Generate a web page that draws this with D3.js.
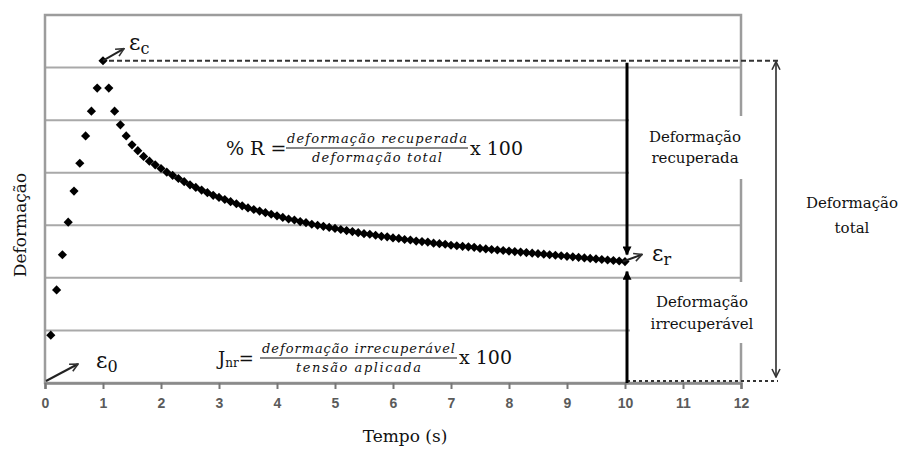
<!DOCTYPE html>
<html>
<head>
<meta charset="utf-8">
<script src="https://cdn.jsdelivr.net/npm/d3@7"></script>
<style>
  body { margin: 0; background: #fff; }
</style>
</head>
<body>
<svg id="chart"></svg>
<script>
'use strict'

// creep-recovery test
const timeS = [
  0.1, 0.2, 0.3, 0.4, 0.5, 0.6, 0.7, 0.8, 0.9, 1.0,
  1.1, 1.2, 1.3, 1.4, 1.5, 1.6, 1.7, 1.8, 1.9, 2.0,
  2.1, 2.2, 2.3, 2.4, 2.5, 2.6, 2.7, 2.8, 2.9, 3.0,
  3.1, 3.2, 3.3, 3.4, 3.5, 3.6, 3.7, 3.8, 3.9, 4.0,
  4.1, 4.2, 4.3, 4.4, 4.5, 4.6, 4.7, 4.8, 4.9, 5.0,
  5.1, 5.2, 5.3, 5.4, 5.5, 5.6, 5.7, 5.8, 5.9, 6.0,
  6.1, 6.2, 6.3, 6.4, 6.5, 6.6, 6.7, 6.8, 6.9, 7.0,
  7.1, 7.2, 7.3, 7.4, 7.5, 7.6, 7.7, 7.8, 7.9, 8.0,
  8.1, 8.2, 8.3, 8.4, 8.5, 8.6, 8.7, 8.8, 8.9, 9.0,
  9.1, 9.2, 9.3, 9.4, 9.5, 9.6, 9.7, 9.8, 9.9, 10.0
]

const strain = [
  0.91, 1.77, 2.44, 3.06, 3.65, 4.18, 4.70, 5.17, 5.61, 6.13,
  5.61, 5.17, 4.91, 4.70, 4.53, 4.42, 4.31, 4.22, 4.15, 4.08,
  4.01, 3.95, 3.89, 3.83, 3.77, 3.72, 3.67, 3.62, 3.57, 3.53,
  3.49, 3.45, 3.41, 3.37, 3.33, 3.30, 3.27, 3.24, 3.21, 3.18,
  3.15, 3.12, 3.10, 3.07, 3.05, 3.02, 3.00, 2.98, 2.96, 2.94,
  2.92, 2.90, 2.88, 2.86, 2.84, 2.83, 2.81, 2.79, 2.78, 2.76,
  2.75, 2.73, 2.72, 2.70, 2.69, 2.68, 2.66, 2.65, 2.64, 2.62,
  2.61, 2.60, 2.59, 2.58, 2.56, 2.55, 2.54, 2.53, 2.52, 2.51,
  2.50, 2.49, 2.48, 2.47, 2.46, 2.45, 2.44, 2.43, 2.42, 2.41,
  2.40, 2.39, 2.38, 2.37, 2.36, 2.35, 2.34, 2.33, 2.32, 2.31
]

const xTicks = [0, 1, 2, 3, 4, 5, 6, 7, 8, 9, 10, 11, 12]
const gridLevels = [1, 2, 3, 4, 5, 6]

const width = 898, height = 449
const serif = '"DejaVu Serif", serif'

const svg = d3.select('#chart')
  .attr('width', width)
  .attr('height', height)

const x = d3.scaleLinear().domain([0, 12]).range([45, 741])
const y = d3.scaleLinear().domain([0, 7]).range([383, 15])

const peakIdx = strain.indexOf(d3.max(strain))
const tPeak = timeS[peakIdx], ePeak = strain[peakIdx]
const tEnd = timeS[timeS.length - 1], eEnd = strain[strain.length - 1]

// arrow heads
const defs = svg.append('defs')
defs.append('marker')
  .attr('id', 'head-fill')
  .attr('viewBox', '0 0 10 10')
  .attr('refX', 9).attr('refY', 5)
  .attr('markerWidth', 10).attr('markerHeight', 9)
  .attr('markerUnits', 'userSpaceOnUse')
  .attr('orient', 'auto')
  .append('path')
  .attr('d', 'M0,0 L10,5 L0,10 Z')
  .attr('fill', '#000')

defs.append('marker')
  .attr('id', 'head-open')
  .attr('viewBox', '0 0 10 10')
  .attr('refX', 9).attr('refY', 5)
  .attr('markerWidth', 10).attr('markerHeight', 10)
  .attr('markerUnits', 'userSpaceOnUse')
  .attr('orient', 'auto-start-reverse')
  .append('path')
  .attr('d', 'M1,1 L9,5 L1,9')
  .attr('fill', 'none')
  .attr('stroke', '#333')
  .attr('stroke-width', 1.6)

// grid
svg.append('g')
  .selectAll('line')
  .data(gridLevels)
  .join('line')
  .attr('x1', x(0)).attr('x2', x(12))
  .attr('y1', d => y(d)).attr('y2', d => y(d))
  .attr('stroke', '#a9a9a9')
  .attr('stroke-width', 2)

// frame
svg.append('rect')
  .attr('x', x(0)).attr('y', y(7))
  .attr('width', x(12) - x(0)).attr('height', y(0) - y(7))
  .attr('fill', 'none')
  .attr('stroke', '#9c9c9c')
  .attr('stroke-width', 2.5)

// x axis
const xAxis = svg.append('g')
  .attr('transform', `translate(0,${y(0)})`)
  .call(d3.axisBottom(x).tickValues(xTicks).tickSize(6).tickPadding(9).tickFormat(d3.format('d')))
xAxis.select('.domain').attr('stroke', '#8a8a8a').attr('stroke-width', 2.5)
xAxis.selectAll('.tick line').attr('stroke', '#777').attr('stroke-width', 2)
xAxis.selectAll('.tick text')
  .attr('fill', '#5a5a5a')
  .style('font-family', '"Liberation Sans", Arial, sans-serif')
  .style('font-size', '14px')
  .style('font-weight', 'bold')

// white boxes behind the side labels
svg.append('rect')
  .attr('x', 629).attr('y', 116).attr('width', 117).attr('height', 63)
  .attr('fill', '#fff')
svg.append('rect')
  .attr('x', 630).attr('y', 282).attr('width', 143).attr('height', 61)
  .attr('fill', '#fff')

// data points
const pts = timeS.map((t, i) => ({ t: t, e: strain[i] }))
svg.append('g')
  .selectAll('path')
  .data(pts)
  .join('path')
  .attr('transform', d => `translate(${x(d.t)},${y(d.e)}) rotate(45)`)
  .attr('d', d3.symbol().type(d3.symbolSquare).size(42))
  .attr('fill', '#000')

// dashed reference lines
svg.append('line')
  .attr('x1', x(tPeak) + 6).attr('x2', 778)
  .attr('y1', y(ePeak)).attr('y2', y(ePeak))
  .attr('stroke', '#333').attr('stroke-width', 2)
  .attr('stroke-dasharray', '5,3')
svg.append('line')
  .attr('x1', x(tEnd) + 2).attr('x2', 778)
  .attr('y1', y(0) - 2).attr('y2', y(0) - 2)
  .attr('stroke', '#333').attr('stroke-width', 2)
  .attr('stroke-dasharray', '3,3')

// recovered / unrecovered strain arrows at t = 10 s
svg.append('line')
  .attr('x1', x(tEnd) + 2).attr('x2', x(tEnd) + 2)
  .attr('y1', y(ePeak) + 2).attr('y2', y(eEnd) - 7)
  .attr('stroke', '#000').attr('stroke-width', 3)
  .attr('marker-end', 'url(#head-fill)')
svg.append('line')
  .attr('x1', x(tEnd) + 2).attr('x2', x(tEnd) + 2)
  .attr('y1', y(0)).attr('y2', y(eEnd) + 10)
  .attr('stroke', '#000').attr('stroke-width', 3)
  .attr('marker-end', 'url(#head-fill)')

// total strain double arrow
svg.append('line')
  .attr('x1', 776).attr('x2', 776)
  .attr('y1', y(ePeak) + 1).attr('y2', y(0) - 6)
  .attr('stroke', '#444').attr('stroke-width', 1.8)
  .attr('marker-start', 'url(#head-open)')
  .attr('marker-end', 'url(#head-open)')

// small pointer arrows
function pointer(x1, y1, x2, y2) {
  svg.append('line')
    .attr('x1', x1).attr('y1', y1).attr('x2', x2).attr('y2', y2)
    .attr('stroke', '#222').attr('stroke-width', 2)
    .attr('marker-end', 'url(#head-open)')
}
pointer(x(tPeak), y(ePeak), x(tPeak) + 21, y(ePeak) - 12)
pointer(x(tEnd) - 2, y(eEnd), x(tEnd) + 17, y(eEnd) - 7)
pointer(x(0) + 1, y(0) - 2, x(0) + 33, y(0) - 19)

// epsilon labels
function eps(px, py, sub) {
  const t = svg.append('text')
    .attr('x', px).attr('y', py)
    .style('font-family', serif)
    .style('font-size', '22px')
    .attr('fill', '#111')
  t.append('tspan').text('ε')
  t.append('tspan').attr('dy', 4).style('font-size', '16px').text(sub)
}
eps(129, 50, 'c')
eps(652, 261, 'r')
eps(96, 368, '0')

// axis titles
svg.append('text')
  .attr('transform', 'translate(26,225) rotate(-90)')
  .attr('text-anchor', 'middle')
  .style('font-family', serif).style('font-size', '17px')
  .attr('fill', '#111')
  .text('Deformação')
svg.append('text')
  .attr('x', 405).attr('y', 442)
  .attr('text-anchor', 'middle')
  .style('font-family', serif).style('font-size', '17px')
  .attr('fill', '#111')
  .text('Tempo (s)')

// side labels
function twoLines(cx, y1, y2, a, b) {
  const g = svg.append('g')
    .style('font-family', serif).style('font-size', '15px')
    .attr('fill', '#111').attr('text-anchor', 'middle')
  g.append('text').attr('x', cx).attr('y', y1).text(a)
  g.append('text').attr('x', cx).attr('y', y2).text(b)
}
twoLines(695, 142, 163, 'Deformação', 'recuperada')
twoLines(702, 307, 329, 'Deformação', 'irrecuperável')
twoLines(852, 208, 233, 'Deformação', 'total')

// formulas
function fraction(x1, x2, lineY, num, numW, den, denW) {
  svg.append('line')
    .attr('x1', x1).attr('x2', x2)
    .attr('y1', lineY).attr('y2', lineY)
    .attr('stroke', '#111').attr('stroke-width', 1.2)
  const cx = (x1 + x2) / 2
  const g = svg.append('g')
    .style('font-family', serif).style('font-size', '13px')
    .style('font-style', 'italic')
    .attr('fill', '#111').attr('text-anchor', 'middle')
  g.append('text').attr('x', cx).attr('y', lineY - 5)
    .attr('textLength', numW).attr('lengthAdjust', 'spacing').text(num)
  g.append('text').attr('x', cx).attr('y', lineY + 14)
    .attr('textLength', denW).attr('lengthAdjust', 'spacing').text(den)
}

svg.append('text')
  .attr('x', 226).attr('y', 155)
  .style('font-family', serif).style('font-size', '19px')
  .attr('fill', '#111')
  .text('% R =')
fraction(286, 468, 148, 'deformação recuperada', 180, 'deformação total', 130)
svg.append('text')
  .attr('x', 470).attr('y', 155)
  .style('font-family', serif).style('font-size', '19px')
  .attr('fill', '#111')
  .text('x 100')

const jnr = svg.append('text')
  .attr('x', 218).attr('y', 365)
  .style('font-family', serif).style('font-size', '18px')
  .attr('fill', '#111')
jnr.append('tspan').text('J')
jnr.append('tspan').attr('dy', 2).style('font-size', '12px').text('nr')
jnr.append('tspan').attr('dy', -2).text('=')
fraction(260, 457, 358, 'deformação irrecuperável', 193, 'tensão aplicada', 125)
svg.append('text')
  .attr('x', 459).attr('y', 364)
  .style('font-family', serif).style('font-size', '19px')
  .attr('fill', '#111')
  .text('x 100')
</script>
</body>
</html>
